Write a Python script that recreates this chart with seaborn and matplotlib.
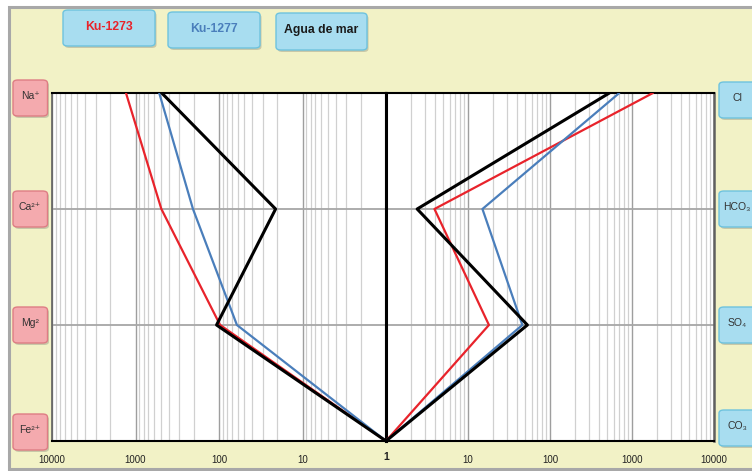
import numpy as np
import pandas as pd
import matplotlib
matplotlib.use("Agg")
import matplotlib.pyplot as plt
from matplotlib.patches import FancyBboxPatch, Rectangle
from matplotlib.ticker import LogLocator, NullFormatter
import seaborn as sns

# Stiff diagram, concentrations in meq/L
cations = ["Na⁺", "Ca²⁺", "Mg²", "Fe²⁺"]
anions = ["Cl", "HCO₃", "SO₄", "CO₃"]
samples = ["Ku-1273", "Ku-1277", "Agua de mar"]

ku1273_cations = [1300, 490, 97, 1]
ku1273_anions = [1800, 3.9, 18, 1]
ku1277_cations = [520, 205, 61, 1]
ku1277_anions = [700, 15, 46, 1]
mar_cations = [485, 21, 107, 1]
mar_anions = [530, 2.4, 53, 1]

tick_values = [10, 100, 1000, 10000]
tick_labels = ["10", "100", "1000", "10000"]

colors = ["#E8232B", "#4A7EBB", "#000000"]
widths = [1.6, 1.6, 2.2]

sns.set_theme(style="white")
FAMILY = ["Liberation Sans", "DejaVu Sans"]
plt.rcParams["font.family"] = FAMILY

W, H = 752, 471
fig = plt.figure(figsize=(W / 100, H / 100), dpi=100)
fig.patch.set_facecolor("white")


def fx(x):
    return x / W


def fy(y):
    return 1 - y / H


# yellow panel with grey frame
fig.add_artist(Rectangle((fx(8.5), fy(469)), fx(770 - 8.5), (469 - 6.5) / H,
                         transform=fig.transFigure, facecolor="#F2F2C6",
                         edgecolor="#A8A8A8", linewidth=2.2, zorder=0))

rows = np.arange(4)
records = []
for name, cat_v, an_v in zip(samples,
                             [ku1273_cations, ku1277_cations, mar_cations],
                             [ku1273_anions, ku1277_anions, mar_anions]):
    for r, v in zip(rows, cat_v):
        records.append((name, "cation", r, v))
    for r, v in zip(rows, an_v):
        records.append((name, "anion", r, v))
df = pd.DataFrame(records, columns=["sample", "side", "row", "value"])

left_px, mid_px, right_px = 52, 386, 714
top_px, bot_px = 93, 441
axL = fig.add_axes([fx(left_px), fy(bot_px), fx(mid_px - left_px), (bot_px - top_px) / H])
axR = fig.add_axes([fx(mid_px), fy(bot_px), fx(right_px - mid_px), (bot_px - top_px) / H])

for ax, side in [(axL, "cation"), (axR, "anion")]:
    ax.set_facecolor("white")
    ax.set_xscale("log")
    for name, c, lw in zip(samples, colors, widths):
        sub = df[(df["side"] == side) & (df["sample"] == name)]
        sns.lineplot(data=sub, x="value", y="row", sort=False, estimator=None,
                     orient="y", color=c, linewidth=lw, ax=ax, legend=False,
                     zorder=5)
    ax.set_ylim(3, 0)
    ax.set_xlabel("")
    ax.set_ylabel("")
    ax.set_yticks([1, 2])
    ax.set_yticklabels([])
    ax.xaxis.set_major_locator(LogLocator(base=10, numticks=10))
    ax.xaxis.set_minor_locator(LogLocator(base=10, subs=np.arange(2, 10), numticks=20))
    ax.xaxis.set_minor_formatter(NullFormatter())
    ax.grid(which="major", axis="x", color="#9E9E9E", linewidth=1.0)
    ax.grid(which="minor", axis="x", color="#D0D0D0", linewidth=0.9)
    ax.grid(which="major", axis="y", color="#A6A6A6", linewidth=1.3)
    ax.set_axisbelow(True)
    ax.tick_params(axis="both", which="both", length=0)
    ax.tick_params(axis="x", pad=10, labelsize=7, colors="#222222")
    ax.set_xticks(tick_values)
    ax.set_xticklabels(tick_labels)
    for s in ax.spines.values():
        s.set_color("black")
        s.set_linewidth(1.5)
    ax.spines["left"].set_color("#606060")

axL.set_xlim(10000, 1)
axR.set_xlim(1, 10000)
axL.spines["right"].set_linewidth(2.2)
axR.spines["left"].set_linewidth(2.2)
axR.spines["left"].set_color("black")
axR.spines["right"].set_color("#606060")
axR.spines["right"].set_linewidth(1.8)
axL.spines["left"].set_linewidth(1.2)

fig.text(fx(mid_px), fy(457.5), "1", ha="center", va="center", fontsize=7.5,
         fontweight="bold", color="#222222")


def box(x0, y0, x1, y1, fc, ec, shadow=True, rad=5):
    if shadow:
        fig.add_artist(FancyBboxPatch((fx(x0 + 1.5), fy(y1 + 2)), fx(x1 - x0), (y1 - y0) / H,
                                      boxstyle=f"round,pad=0,rounding_size={rad / W}",
                                      transform=fig.transFigure, facecolor="#C8C8A8",
                                      edgecolor="none", zorder=1))
    fig.add_artist(FancyBboxPatch((fx(x0), fy(y1)), fx(x1 - x0), (y1 - y0) / H,
                                  boxstyle=f"round,pad=0,rounding_size={rad / W}",
                                  transform=fig.transFigure, facecolor=fc,
                                  edgecolor=ec, linewidth=1.0, zorder=2))


# legend buttons
legend_boxes = [(63, 10, 155, 46), (168, 12, 260, 48), (276, 13, 367, 50)]
for (x0, y0, x1, y1), name, c in zip(legend_boxes, samples, colors):
    box(x0, y0, x1, y1, "#A8DDF0", "#6EC3DE")
    fig.text(fx((x0 + x1) / 2), fy((y0 + y1) / 2 - 1), name, ha="center", va="center",
             fontsize=8.8, fontweight="bold", color=c if c != "#000000" else "#1A1A1A",
             zorder=3)

# ion labels
cation_centres = [98, 209, 325, 432]
anion_centres = [100, 209, 325, 428]
for lab, yc in zip(cations, cation_centres):
    box(13, yc - 18, 47.5, yc + 18, "#F4AAAE", "#DE7D84")
    fig.text(fx(30), fy(yc - 2), lab, ha="center", va="center", fontsize=7.5,
             color="#333333", zorder=3)
for lab, yc in zip(anions, anion_centres):
    box(719, yc - 18, 770, yc + 18, "#A8DDF0", "#6EC3DE")
    fig.text(fx(737), fy(yc - 2), lab, ha="center", va="center", fontsize=7.5,
             color="#333333", zorder=3)

fig.savefig("out.png", dpi=100)
